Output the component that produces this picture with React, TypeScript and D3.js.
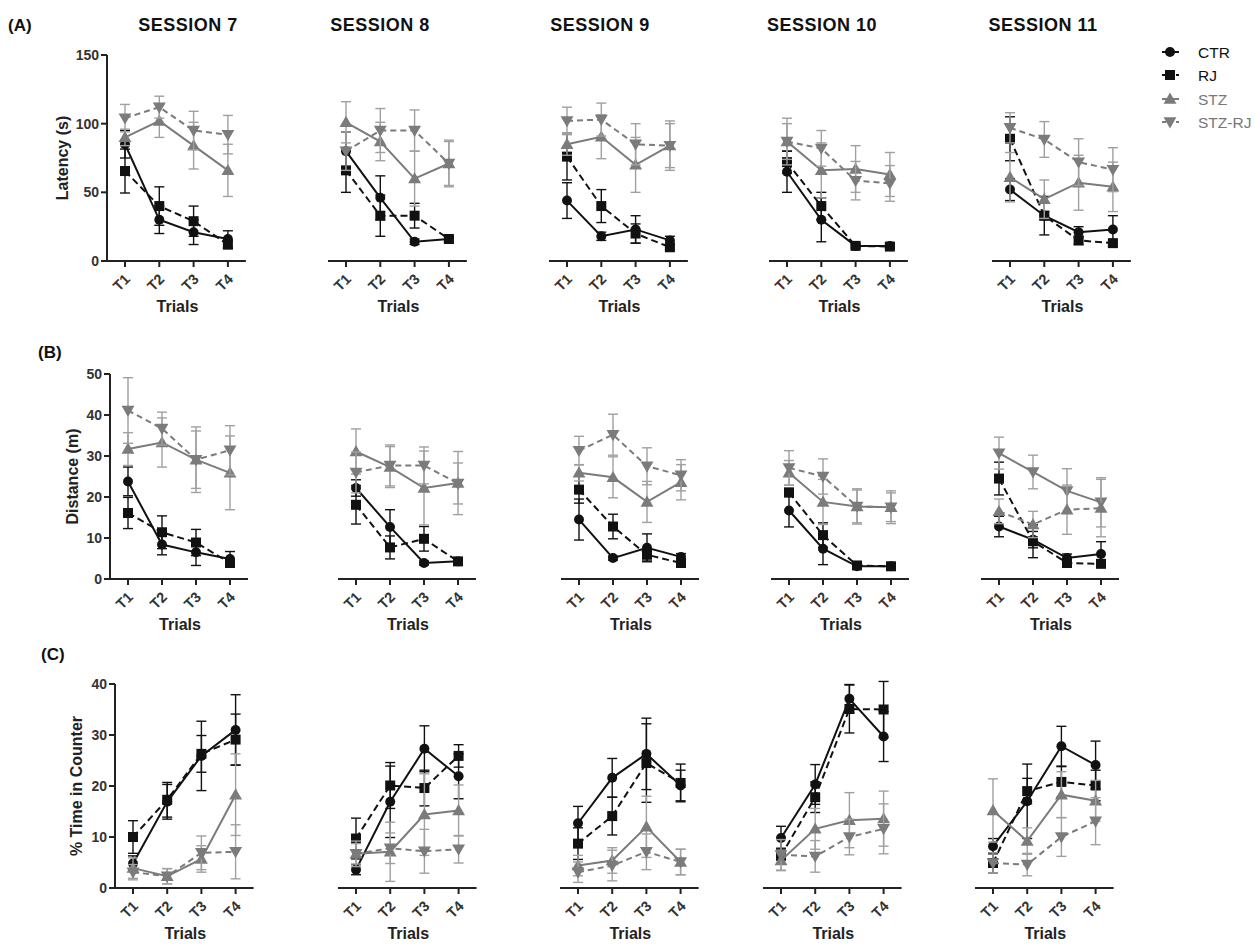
import React from 'react';
import * as d3 from 'd3';

const FONT = '"Liberation Sans", Arial, Helvetica, sans-serif';

// ---------- categories ----------
const sessions = ['SESSION 7', 'SESSION 8', 'SESSION 9', 'SESSION 10', 'SESSION 11'];
const trials = ['T1', 'T2', 'T3', 'T4'];
const groups = ['CTR', 'RJ', 'STZ', 'STZ-RJ'];

// ---------- (A) Latency (s): [session][trial] ----------
const latCTR = [[85, 30, 21, 16], [80, 46, 14, 16], [44, 18, 23, 15], [65, 30, 11, 11], [52, 33, 21, 23]];
const latCTRErr = [[10, 10, 9, 6], [14, 16, 2, 2], [13, 3, 10, 3], [15, 16, 2, 2], [8, 3, 4, 10]];
const latRJ = [[65.5, 40, 29, 12], [66, 33, 33, 16], [76, 40, 20, 10], [72, 40, 11, 10.5], [89, 33, 15, 13]];
const latRJErr = [[16, 14, 11, 3], [16, 15, 9, 2], [17, 12, 7, 2], [8, 10, 1, 1], [16, 14, 3, 2]];
const latSTZ = [[90, 102, 84, 66], [101, 87, 60, 71], [85, 90.5, 70, 84], [87, 66, 67, 63], [61, 45, 57, 54]];
const latSTZErr = [[6, 12, 17, 19], [15, 14, 20, 16], [8, 16, 20, 16], [17, 20, 17, 16], [18, 14, 20, 18]];
const latSTZRJ = [[104, 112, 95, 92], [80, 95, 95, 71], [102, 103, 85, 84], [87, 82, 58.5, 56.5], [97, 88.5, 72, 66.5]];
const latSTZRJErr = [[10, 8, 14, 14], [14, 16, 15, 17], [10, 12, 15, 18], [13, 13, 14, 13], [11, 13, 17, 16]];

// ---------- (B) Distance (m) ----------
const distCTR = [[23.8, 8.4, 6.5, 4.9], [22.2, 12.7, 3.9, 4.3], [14.5, 5.1, 7.6, 5.4], [16.7, 7.4, 3.1, 3.1], [12.8, 9.6, 5.1, 6.1]];
const distCTRErr = [[3.5, 2.5, 3.2, 1.8], [2, 4.2, 0.5, 0.5], [5, 0.5, 3.4, 0.8], [4, 3.9, 0.5, 0.5], [2.5, 2, 1, 3]];
const distRJ = [[16.1, 11.4, 8.9, 3.9], [18.1, 7.7, 9.8, 4.3], [21.8, 12.8, 5.9, 3.9], [21.1, 10.7, 3.3, 3.1], [24.5, 9.2, 3.9, 3.7]];
const distRJErr = [[3.8, 4, 3.2, 1], [4.7, 2.8, 3, 0.5], [3.3, 3, 1.5, 0.5], [1, 3, 0.5, 0.5], [4, 4, 1, 0.5]];
const distSTZ = [[31.7, 33.3, 29.1, 25.9], [31.1, 27.3, 22.2, 23.4], [25.9, 24.8, 18.8, 23.6], [25.9, 18.8, 17.7, 17.5], [30.7, 26.1, 21.5, 18.7]];
const distSTZErr = [[4, 6, 7, 9], [5.5, 5, 9, 7.7], [2, 5, 5, 4.3], [3, 5.5, 4.3, 4], [3.9, 4.1, 5.4, 6]];
const distSTZRJ = [[41.1, 36.7, 29.1, 31.4], [26, 27.7, 27.7, 23.3], [31.3, 35.2, 27.5, 25.3], [27.1, 25, 17.7, 17.5], [16.5, 13.3, 16.9, 17.3]];
const distSTZRJErr = [[8, 4, 8, 6], [5, 5, 4.5, 5], [3.5, 5, 4.5, 3.8], [4.2, 4.3, 4, 3.5], [3, 3.2, 6, 7]];

// ---------- (C) % Time in Counter ----------
const timeCTR = [[4.8, 16.9, 25.9, 31], [3.6, 16.9, 27.3, 21.9], [12.7, 21.6, 26.3, 20.1], [9.8, 20.3, 37.1, 29.7], [8.2, 17, 27.8, 24.1]];
const timeCTRErr = [[1.5, 3.4, 6.8, 6.9], [1, 7, 4.5, 4.4], [3.3, 3.8, 7, 3], [2.3, 3.9, 2.8, 4.9], [1.5, 7.3, 3.9, 4.7]];
const timeRJ = [[10, 17.3, 26.3, 29.1], [9.7, 20.1, 19.6, 25.9], [8.7, 14.1, 24.5, 20.6], [6.3, 17.8, 35.1, 35], [4.9, 19, 20.8, 20.1]];
const timeRJErr = [[3.2, 3.4, 3.6, 5], [4, 4.5, 3.5, 2.2], [3.1, 3.7, 7.7, 3.7], [1.5, 3, 4.7, 5.5], [2, 2.5, 3, 3]];
const timeSTZ = [[3.9, 2.3, 5.7, 18.3], [6.7, 7.1, 14.4, 15.2], [4.4, 5.4, 12, 5.1], [5.4, 11.6, 13.3, 13.6], [15.2, 9.2, 18.3, 17.1]];
const timeSTZErr = [[2, 1.5, 2.6, 8], [2, 5.8, 8, 5], [2, 2.5, 6, 2.5], [2, 4, 5.4, 5.4], [6.2, 2.6, 4.5, 4]];
const timeSTZRJ = [[3.1, 2.3, 6.9, 7.1], [6.7, 7.8, 7.2, 7.6], [3.1, 4.4, 7.1, 5.1], [6.5, 6.2, 10, 11.6], [4.9, 4.6, 10, 13.1]];
const timeSTZRJErr = [[1.5, 1.5, 3.3, 5.3], [2.5, 3, 4.3, 2.7], [2, 3, 3.5, 2.5], [3, 3.1, 3.5, 4.9], [2, 2.2, 3.8, 4.6]];

// ---------- tick labels ----------
const latencyTicks = [0, 50, 100, 150];
const distanceTicks = [0, 10, 20, 30, 40, 50];
const timeTicks = [0, 10, 20, 30, 40];
const rowLetters = ['(A)', '(B)', '(C)'];
const rowYLabels = ['Latency (s)', 'Distance (m)', '% Time in Counter'];

// ---------- layout (pixels) ----------
const layout = [
  { y0: 261, yTop: 55, max: 150, t1: [125, 346, 567, 787, 1010], step: 34.3, letterX: 8, letterY: 31, ylabX: 62 },
  { y0: 579, yTop: 374, max: 50, t1: [128, 356, 579, 789, 999], step: 34, letterX: 38, letterY: 358, ylabX: 72 },
  { y0: 888, yTop: 684, max: 40, t1: [133, 356, 578, 781, 993], step: 34.2, letterX: 41, letterY: 660, ylabX: 76 },
];
const titleX = [188, 380, 600, 822, 1043];

const rowData = [
  { ticks: latencyTicks, series: [[latCTR, latCTRErr], [latRJ, latRJErr], [latSTZ, latSTZErr], [latSTZRJ, latSTZRJErr]] },
  { ticks: distanceTicks, series: [[distCTR, distCTRErr], [distRJ, distRJErr], [distSTZ, distSTZErr], [distSTZRJ, distSTZRJErr]] },
  { ticks: timeTicks, series: [[timeCTR, timeCTRErr], [timeRJ, timeRJErr], [timeSTZ, timeSTZErr], [timeSTZRJ, timeSTZRJErr]] },
];

const BLACK = '#111';
const GRAY = '#7b7b7b';
const GRAY_ERR = '#a0a0a0';
const styles: Record<string, { color: string; err: string; dash?: string; marker: string }> = {
  CTR: { color: BLACK, err: BLACK, marker: 'circle' },
  RJ: { color: BLACK, err: BLACK, dash: '7,4', marker: 'square' },
  STZ: { color: GRAY, err: GRAY_ERR, marker: 'up' },
  'STZ-RJ': { color: GRAY, err: GRAY_ERR, dash: '6,4', marker: 'down' },
};

function markerPath(kind: string): string {
  if (kind === 'circle') return d3.symbol().type(d3.symbolCircle).size(78)() as string;
  if (kind === 'square') return d3.symbol().type(d3.symbolSquare).size(100)() as string;
  return d3.symbol().type(d3.symbolTriangle).size(72)() as string;
}

function Marker({ kind, x, y, color }: { kind: string; x: number; y: number; color: string }) {
  const rot = kind === 'down' ? 180 : 0;
  const dy = kind === 'up' ? 1 : kind === 'down' ? -1 : 0;
  return <path d={markerPath(kind)} transform={`translate(${x},${y + dy}) rotate(${rot})`} fill={color} />;
}

function Panel({ ri, si }: { ri: number; si: number }) {
  const L = layout[ri];
  const D = rowData[ri];
  const x = d3.scalePoint<string>().domain(trials).range([L.t1[si], L.t1[si] + 3 * L.step]);
  const y = d3.scaleLinear().domain([0, L.max]).range([L.y0, L.yTop]);
  const x0 = L.t1[si] - 18;
  const x1 = L.t1[si] + 3 * L.step + 18;
  const line = d3.line<number>().x((_, i) => x(trials[i]) as number).y((v) => y(v));
  const swapped = ri === 1 && si === 4; // markers swapped in the original figure
  return (
    <g>
      {/* x axis */}
      <line x1={si === 0 ? x0 - 6 : x0} x2={x1} y1={L.y0} y2={L.y0} stroke="#222" strokeWidth={2} />
      {trials.map((t) => {
        const px = (x(t) as number) + 6;
        const py = L.y0 + 19;
        return (
          <g key={t}>
            <line x1={x(t)} x2={x(t)} y1={L.y0} y2={L.y0 + 6} stroke="#222" strokeWidth={2} />
            <text
              x={px}
              y={py}
              transform={`rotate(-45, ${px}, ${py})`}
              textAnchor="end"
              fontSize={14.5}
              fontWeight="bold"
              fill="#333"
            >
              {t}
            </text>
          </g>
        );
      })}
      <text x={(x0 + x1) / 2 + 1} y={L.y0 + 51} textAnchor="middle" fontSize={16} fontWeight="bold" fill="#222">
        Trials
      </text>
      {si === 0 && (
        <g>
          <line x1={x0} x2={x0} y1={L.y0} y2={L.yTop} stroke="#222" strokeWidth={2} />
          {D.ticks.map((tv) => (
            <g key={tv}>
              <line x1={x0 - 6} x2={x0} y1={y(tv)} y2={y(tv)} stroke="#222" strokeWidth={2} />
              <text x={x0 - 8} y={y(tv) + 5} textAnchor="end" fontSize={14} fontWeight="bold" fill="#333">
                {tv}
              </text>
            </g>
          ))}
          <text
            x={L.ylabX}
            y={(L.y0 + L.yTop) / 2}
            transform={`rotate(-90, ${L.ylabX}, ${(L.y0 + L.yTop) / 2})`}
            textAnchor="middle"
            dominantBaseline="central"
            fontSize={16}
            fontWeight="bold"
            fill="#222"
          >
            {rowYLabels[ri]}
          </text>
        </g>
      )}
      {/* series */}
      {groups.map((g, gi) => {
        const st = styles[g];
        const means = D.series[gi][0][si];
        const errs = D.series[gi][1][si];
        let mk = st.marker;
        if (swapped && g === 'STZ') mk = 'down';
        if (swapped && g === 'STZ-RJ') mk = 'up';
        return (
          <g key={g}>
            {means.map((m, i) => {
              const cx = x(trials[i]) as number;
              const e = errs[i];
              return (
                <g key={i} stroke={st.err} strokeWidth={1.4}>
                  <line x1={cx} x2={cx} y1={y(m - e)} y2={y(m + e)} />
                  <line x1={cx - 5} x2={cx + 5} y1={y(m - e)} y2={y(m - e)} />
                  <line x1={cx - 5} x2={cx + 5} y1={y(m + e)} y2={y(m + e)} />
                </g>
              );
            })}
            <path d={line(means) as string} fill="none" stroke={st.color} strokeWidth={2} strokeDasharray={st.dash} />
            {means.map((m, i) => (
              <Marker key={i} kind={mk} x={x(trials[i]) as number} y={y(m)} color={st.color} />
            ))}
          </g>
        );
      })}
    </g>
  );
}

const legendY = [52, 75, 99, 122];

export default function App() {
  return (
    <svg
      width={1255}
      height={944}
      style={{ position: 'absolute', left: 0, top: 0, background: '#fff' }}
      fontFamily={FONT}
    >
      <rect width={1255} height={944} fill="#fff" />
      {sessions.map((s, i) => (
        <text
          key={s}
          x={titleX[i]}
          y={31}
          textAnchor="middle"
          fontSize={18}
          fontWeight="bold"
          letterSpacing={0.5}
          fill="#111"
        >
          {s}
        </text>
      ))}
      {rowLetters.map((l, ri) => (
        <text key={l} x={layout[ri].letterX} y={layout[ri].letterY} fontSize={17} fontWeight="bold" fill="#111">
          {l}
        </text>
      ))}
      {layout.map((_, ri) => sessions.map((_, si) => <Panel key={`${ri}-${si}`} ri={ri} si={si} />))}
      {/* legend */}
      {groups.map((g, i) => {
        const st = styles[g];
        const cy = legendY[i];
        return (
          <g key={g}>
            <line x1={1162} x2={1179} y1={cy} y2={cy} stroke={st.color} strokeWidth={2} strokeDasharray={st.dash ? '4,3' : undefined} />
            <Marker kind={st.marker} x={1170} y={cy} color={st.color} />
            <text x={1198} y={cy + 5.5} fontSize={15.5} fill={i < 2 ? '#111' : '#777'}>
              {g}
            </text>
          </g>
        );
      })}
    </svg>
  );
}
